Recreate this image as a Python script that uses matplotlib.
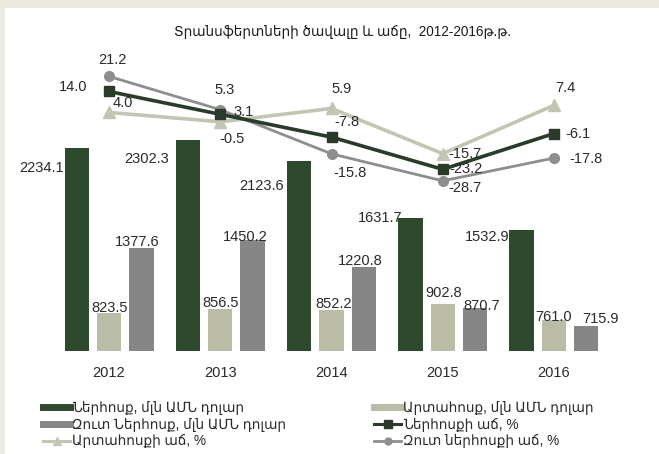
import matplotlib
matplotlib.use("Agg")

import matplotlib.pyplot as plt
from matplotlib.lines import Line2D
from matplotlib.patches import Rectangle
import numpy as np

# Armenian glyphs come from DejaVu Sans, digits from Liberation Sans
plt.rcParams["font.family"] = ["Liberation Sans", "DejaVu Sans"]

# ---------------------------------------------------------------------------
# Data
# ---------------------------------------------------------------------------
years = ["2012", "2013", "2014", "2015", "2016"]
inflow = [2234.1, 2302.3, 2123.6, 1631.7, 1532.9]       # mln USD
outflow = [823.5, 856.5, 852.2, 902.8, 761.0]           # mln USD
net_inflow = [1377.6, 1450.2, 1220.8, 870.7, 715.9]     # mln USD
inflow_growth = [14.0, 3.1, -7.8, -23.2, -6.1]          # %
outflow_growth = [4.0, -0.5, 5.9, -15.7, 7.4]           # %
net_growth = [21.2, 5.3, -15.8, -28.7, -17.8]           # %

title = "Տրանսֆերտների ծավալը և աճը,  2012-2016թ.թ."
lbl_inflow = "Ներհոսք, մլն ԱՄՆ դոլար"
lbl_outflow = "Արտահոսք, մլն ԱՄՆ դոլար"
lbl_net = "Զուտ Ներհոսք, մլն ԱՄՆ դոլար"
lbl_inflow_g = "Ներհոսքի աճ, %"
lbl_outflow_g = "Արտահոսքի աճ, %"
lbl_net_g = "Զուտ ներհոսքի աճ, %"

# ---------------------------------------------------------------------------
# Style
# ---------------------------------------------------------------------------
C_DARK = "#2e4a2c"
C_LIGHT = "#babca6"
C_GRAY = "#868686"
C_LINE_DARK = "#2b3b29"
C_LINE_LIGHT = "#c3c5b3"
C_LINE_GRAY = "#8e8e8e"
C_TEXT = "#2a2a2a"
C_BG = "#ece9df"

# hand-placed label offsets (pixels) from each mark
OFF_INFLOW = [(-35, -20), (-41, -19), (-38, -25), (-30, 0), (-35, -7)]
OFF_OUTFLOW = [(1, 5), (0, 6), (2, 6), (1, 11), (0, 3)]
OFF_NET = [(-4, 6), (-7, 3), (-4, 6), (7, 2), (14, 7)]
OFF_INFLOW_G = [(-36, 4), (23, 2), (15, 15), (23, 0), (24, 0)]
OFF_OUTFLOW_G = [(14, 9), (12, -17), (10, 19), (22, 0), (11, 17)]
OFF_NET_G = [(3, 16), (4, 20), (18, -19), (22, -7), (32, -1)]

W, H = 659, 454
fig = plt.figure(figsize=(W / 100, H / 100), dpi=100)
fig.patch.set_facecolor(C_BG)
fig.add_artist(Rectangle((5 / W, 0), 1, (H - 8) / H, transform=fig.transFigure,
                         facecolor="white", edgecolor="none", zorder=0))

ax = fig.add_axes([53.4 / W, 103 / H, 556.2 / W, 293 / H])
ax.set_facecolor("none")
x = np.arange(len(years))
bw = 0.22
sh = 0.29

b1 = ax.bar(x - sh, inflow, bw, color=C_DARK)
b2 = ax.bar(x, outflow, bw, color=C_LIGHT)
b3 = ax.bar(x + sh, net_inflow, bw, color=C_GRAY)
ax.set_ylim(500, 3000)
ax.set_xlim(-0.5, len(years) - 0.5)

for bars, vals, offs in ((b1, inflow, OFF_INFLOW), (b2, outflow, OFF_OUTFLOW),
                         (b3, net_inflow, OFF_NET)):
    for bar, v, (dx, dy) in zip(bars, vals, offs):
        ax.annotate(f"{v:.1f}", (bar.get_x() + bar.get_width() / 2, v),
                    xytext=(dx, dy), textcoords="offset pixels",
                    ha="center", va="center", fontsize=10.5, color=C_TEXT)

ax.set_xticks(x)
ax.set_xticklabels(years, fontsize=10.5, color=C_TEXT)
ax.tick_params(axis="x", length=0, pad=11)
ax.set_yticks([])
for s in ax.spines.values():
    s.set_visible(False)

# growth rates on the secondary axis
ax2 = ax.twinx()
ax2.set_ylim(-110, 30)
ax2.set_yticks([])
for s in ax2.spines.values():
    s.set_visible(False)

ax2.plot(x, outflow_growth, color=C_LINE_LIGHT, lw=2.6, marker="^", ms=8)
ax2.plot(x, net_growth, color=C_LINE_GRAY, lw=2.0, marker="o", ms=7)
ax2.plot(x, inflow_growth, color=C_LINE_DARK, lw=2.6, marker="s", ms=7)

for vals, offs in ((inflow_growth, OFF_INFLOW_G), (outflow_growth, OFF_OUTFLOW_G),
                   (net_growth, OFF_NET_G)):
    for xi, v, (dx, dy) in zip(x, vals, offs):
        ax2.annotate(f"{v:.1f}", (xi, v), xytext=(dx, dy),
                     textcoords="offset pixels", ha="center", va="center",
                     fontsize=10.5, color=C_TEXT)

fig.text(0.52, 1 - 32 / H, title, ha="center", va="center", fontsize=9.8,
         color="#1c1c1c")

# legend: two fixed columns
h_inflow = Line2D([], [], color=C_DARK, lw=5)
h_outflow = Line2D([], [], color=C_LIGHT, lw=5)
h_net = Line2D([], [], color=C_GRAY, lw=5)
h_inflow_g = Line2D([], [], color=C_LINE_DARK, lw=2.2, marker="s", ms=6)
h_outflow_g = Line2D([], [], color=C_LINE_LIGHT, lw=2.2, marker="^", ms=6)
h_net_g = Line2D([], [], color=C_LINE_GRAY, lw=2.0, marker="o", ms=5)

leg_kw = dict(loc="upper left", frameon=False, fontsize=9.8, handlelength=2.0,
              handletextpad=0.15, labelspacing=0.2, borderpad=0,
              borderaxespad=0, labelcolor=C_TEXT)
fig.legend([h_inflow, h_net, h_outflow_g], [lbl_inflow, lbl_net, lbl_outflow_g],
           bbox_to_anchor=(43 / W, 1 - 401 / H), **leg_kw)
fig.legend([h_outflow, h_inflow_g, h_net_g], [lbl_outflow, lbl_inflow_g, lbl_net_g],
           bbox_to_anchor=(374 / W, 1 - 401 / H), **leg_kw)

fig.savefig("out.png", dpi=100, facecolor=fig.get_facecolor())
